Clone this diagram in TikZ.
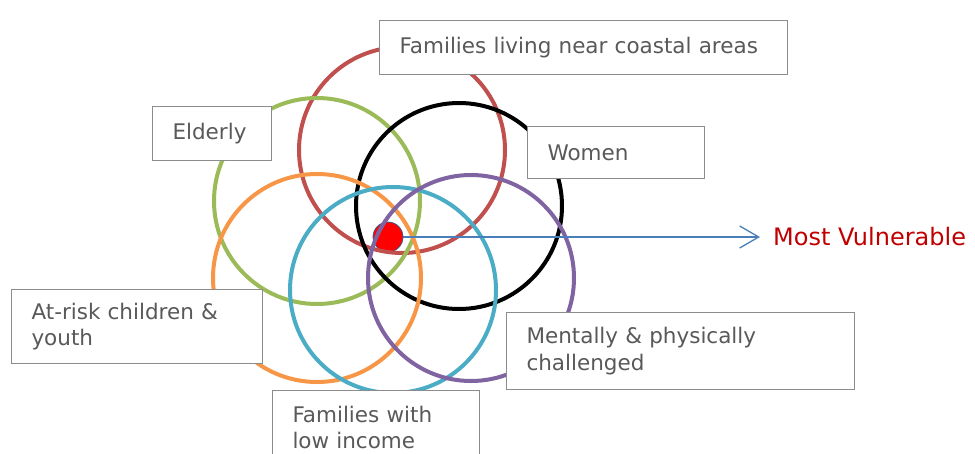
\documentclass[tikz,border=0pt]{standalone}
\usepackage{fontspec}
\setmainfont{DejaVu Sans}
\usepackage{tikz}
\usetikzlibrary{arrows.meta}

\definecolor{boxgray}{HTML}{8C8C8C}
\definecolor{txtgray}{HTML}{595959}
\definecolor{coastred}{HTML}{C0504D}
\definecolor{eldergreen}{HTML}{9BBB59}
\definecolor{youthorange}{HTML}{F79646}
\definecolor{incometeal}{HTML}{4BACC6}
\definecolor{mindpurple}{HTML}{8064A2}
\definecolor{arrowblue}{HTML}{4A7EBB}
\definecolor{dotblue}{HTML}{385D8A}
\definecolor{vulnred}{HTML}{C00000}

\begin{document}
\begin{tikzpicture}[x=1pt, y=-1pt]

\tikzstyle{every node} = [font=\fontsize{21.5}{26.5}\selectfont, text=txtgray]
\tikzstyle{group} = [rectangle, draw=boxgray, fill=white, line width=1pt, anchor=north west, align=left, inner xsep=20pt]
\tikzstyle{ring} = [line width=4pt]

\useasboundingbox (0,0) rectangle (975,453);
\clip (0,0) rectangle (975,453);

\node[circle, fill=red, draw=dotblue, line width=0.8pt, minimum size=30pt, inner sep=0pt] (core) at (388,237) {};

\draw[ring, coastred]    (402,150) circle (103pt);
\draw[ring, eldergreen]  (317,201) circle (103pt);
\draw[ring, black]       (459,206) circle (103pt);
\draw[ring, youthorange] (317,278) circle (104pt);
\draw[ring, incometeal]  (393,290) circle (103pt);
\draw[ring, mindpurple]  (471,278) circle (103pt);

\node[anchor=west, inner xsep=13pt, text=vulnred, font=\fontsize{24}{28}\selectfont] (most) at (760,237) {Most Vulnerable};
\draw[-{Straight Barb[length=19pt,width=22pt]}, arrowblue, line width=1.3pt] (core) -- (core -| most.west);

\node[group, text width=368pt, minimum height=54pt] (coast) at (379,20) {Families living near coastal areas};
\node[group, text width=79pt, minimum height=54pt] (elderly) at (152,106) {Elderly};
\node[group, text width=137pt, minimum height=52pt] (women) at (527,126) {Women};
\node[group, text width=211pt, minimum height=74pt] (youth) at (11,289) {At-risk children \&\\youth};
\node[group, text width=308pt, minimum height=77pt] (challenged) at (506,312) {Mentally \& physically\\challenged};
\node[group, text width=167pt, minimum height=74pt] (income) at (272,390) {Families with\\low income};

\end{tikzpicture}
\end{document}
